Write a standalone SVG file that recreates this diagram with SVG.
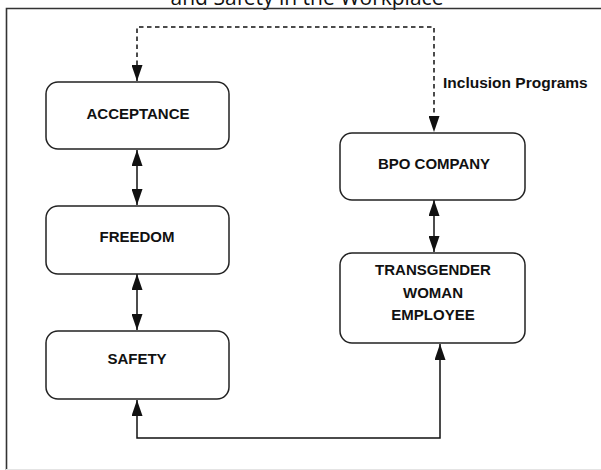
<svg xmlns="http://www.w3.org/2000/svg" width="601" height="470" viewBox="0 0 601 470">
<defs>
<style>
.box{fill:#fff;stroke:#222;stroke-width:1.5}
.lbl{font-family:"Liberation Sans",Arial,sans-serif;font-weight:bold;font-size:15px;fill:#111;text-anchor:middle}
.conn{fill:none;stroke:#111;stroke-width:1.5}
.dash{stroke-dasharray:4.5 3.5}
</style>
<marker id="ah" viewBox="0 0 16 11" refX="16" refY="5.5" markerWidth="16" markerHeight="11" markerUnits="userSpaceOnUse" orient="auto-start-reverse">
<path d="M0 0 L16 5.5 L0 11 Z" fill="#111"/>
</marker>
</defs>
<rect width="601" height="470" fill="#fff"/>
<text x="307" y="4.5" font-family="'Open Sans',sans-serif" font-size="21" fill="#111" text-anchor="middle">and Safety in the Workplace</text>
<path d="M6.5 470 V8.5 H601" fill="none" stroke="#333" stroke-width="1.6"/>
<line x1="6" y1="469.5" x2="601" y2="469.5" stroke="#e4e4e4" stroke-width="1"/>
<g id="connectors">
<path class="conn dash" d="M137 81 V27 H434 V132" marker-start="url(#ah)" marker-end="url(#ah)"/>
<path class="conn" d="M137 150 V205" marker-start="url(#ah)" marker-end="url(#ah)"/>
<path class="conn" d="M137 274 V330" marker-start="url(#ah)" marker-end="url(#ah)"/>
<path class="conn" d="M434 200 V252" marker-start="url(#ah)" marker-end="url(#ah)"/>
<path class="conn" d="M137 400 V438 H440 V344" marker-start="url(#ah)" marker-end="url(#ah)"/>
<text x="443" y="88" class="lbl" style="text-anchor:start;font-size:15.5px">Inclusion Programs</text>
</g>
<g id="acceptance"><rect class="box" x="46" y="82" width="183" height="67" rx="12"/><text class="lbl" x="138" y="119">ACCEPTANCE</text></g>
<g id="freedom"><rect class="box" x="46" y="206" width="183" height="68" rx="12"/><text class="lbl" x="137" y="242">FREEDOM</text></g>
<g id="safety"><rect class="box" x="46" y="331" width="183" height="68" rx="12"/><text class="lbl" x="137" y="364">SAFETY</text></g>
<g id="bpo"><rect class="box" x="340" y="133" width="185" height="67" rx="12"/><text class="lbl" x="434" y="169">BPO COMPANY</text></g>
<g id="employee"><rect class="box" x="340" y="253" width="185" height="90" rx="12"/><text class="lbl" x="433" y="275">TRANSGENDER</text><text class="lbl" x="433" y="297.5">WOMAN</text><text class="lbl" x="433" y="320">EMPLOYEE</text></g>
</svg>
